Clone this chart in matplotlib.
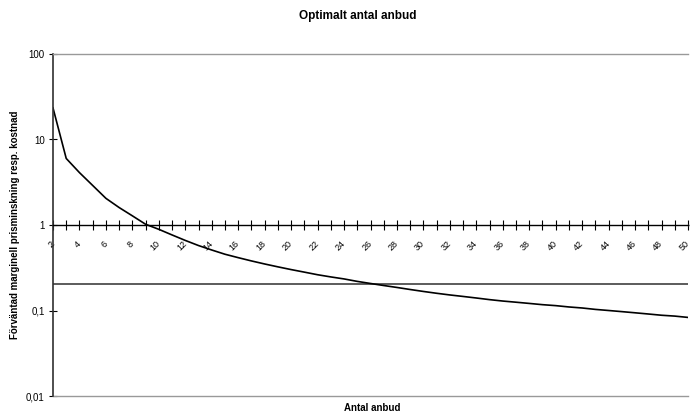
import numpy as np
import matplotlib
matplotlib.use("Agg")
import matplotlib.pyplot as plt
from matplotlib.ticker import FixedLocator, FixedFormatter, NullLocator

plt.rcParams['font.family'] = ['Liberation Sans', 'DejaVu Sans']

# antal anbud (categories) and expected marginal price reduction
anbud = list(range(2, 51))
prisminskning = [23.4, 6.0, 4.1, 2.9, 2.05, 1.6, 1.28, 1.02, 0.89, 0.765,
                 0.66, 0.575, 0.51, 0.455, 0.415, 0.38, 0.35, 0.324, 0.301, 0.281,
                 0.262, 0.247, 0.234, 0.219, 0.207, 0.196, 0.186, 0.176, 0.167, 0.159,
                 0.152, 0.146, 0.140, 0.134, 0.129, 0.125, 0.121, 0.117, 0.114, 0.110,
                 0.107, 0.103, 0.100, 0.097, 0.094, 0.091, 0.088, 0.086, 0.083]
kostnad = [0.205] * len(anbud)

ytick_vals = [0.01, 0.1, 1, 10, 100]
ytick_labels = ['0,01', '0,1', '1', '10', '100']

fig = plt.figure(figsize=(6.9, 4.16), dpi=100)
ax = fig.add_axes([53/690, 1 - 396/416, (688 - 53)/690, (396 - 54)/416])

ax.plot(anbud, kostnad, color='#404040', lw=1.2)
ax.plot(anbud, prisminskning, color='black', lw=1.2)

ax.set_yscale('log')
ax.set_ylim(0.01, 100)
ax.set_xlim(2, 50)

ax.yaxis.set_major_locator(FixedLocator(ytick_vals))
ax.yaxis.set_major_formatter(FixedFormatter(ytick_labels))
ax.yaxis.set_minor_locator(NullLocator())
ax.tick_params(axis='y', direction='inout', length=6, width=0.8, labelsize=7, pad=3)

# x axis crosses at y = 1
ax.spines['bottom'].set_position(('data', 1))
ax.spines['bottom'].set_linewidth(1.0)
ax.spines['left'].set_color('#303030')
ax.spines['left'].set_linewidth(1.2)
ax.spines['right'].set_visible(False)
ax.spines['top'].set_color('#999999')
ax.spines['top'].set_linewidth(1.0)
ax.plot([0, 1], [0, 0], transform=ax.transAxes, color='#999999', lw=1.0, clip_on=False)
ax.plot([1, 1.01], [1, 1], transform=ax.get_yaxis_transform(), color='#999999',
        lw=1.0, clip_on=False)

ax.set_xticks(anbud[::2])
ax.set_xticks(anbud[1::2], minor=True)
ax.set_xticklabels([str(a) for a in anbud[::2]], rotation=45, ha='right',
                   va='center', rotation_mode='anchor')
ax.tick_params(axis='x', which='both', direction='inout', length=7, width=0.8,
               labelsize=6.5, pad=9)

fig.text(358/690, 1 - 16/416, 'Optimalt antal anbud', ha='center', va='center',
         fontsize=8.5, fontweight='bold')
fig.text(372/690, 1 - 408/416, 'Antal anbud', ha='center', va='center',
         fontsize=7, fontweight='bold')
fig.text(15/690, 1 - 225/416, 'Förväntad marginell prisminskning resp. kostnad',
         ha='center', va='center', rotation=90, fontsize=7, fontweight='bold')

fig.savefig('out.png', dpi=100)
